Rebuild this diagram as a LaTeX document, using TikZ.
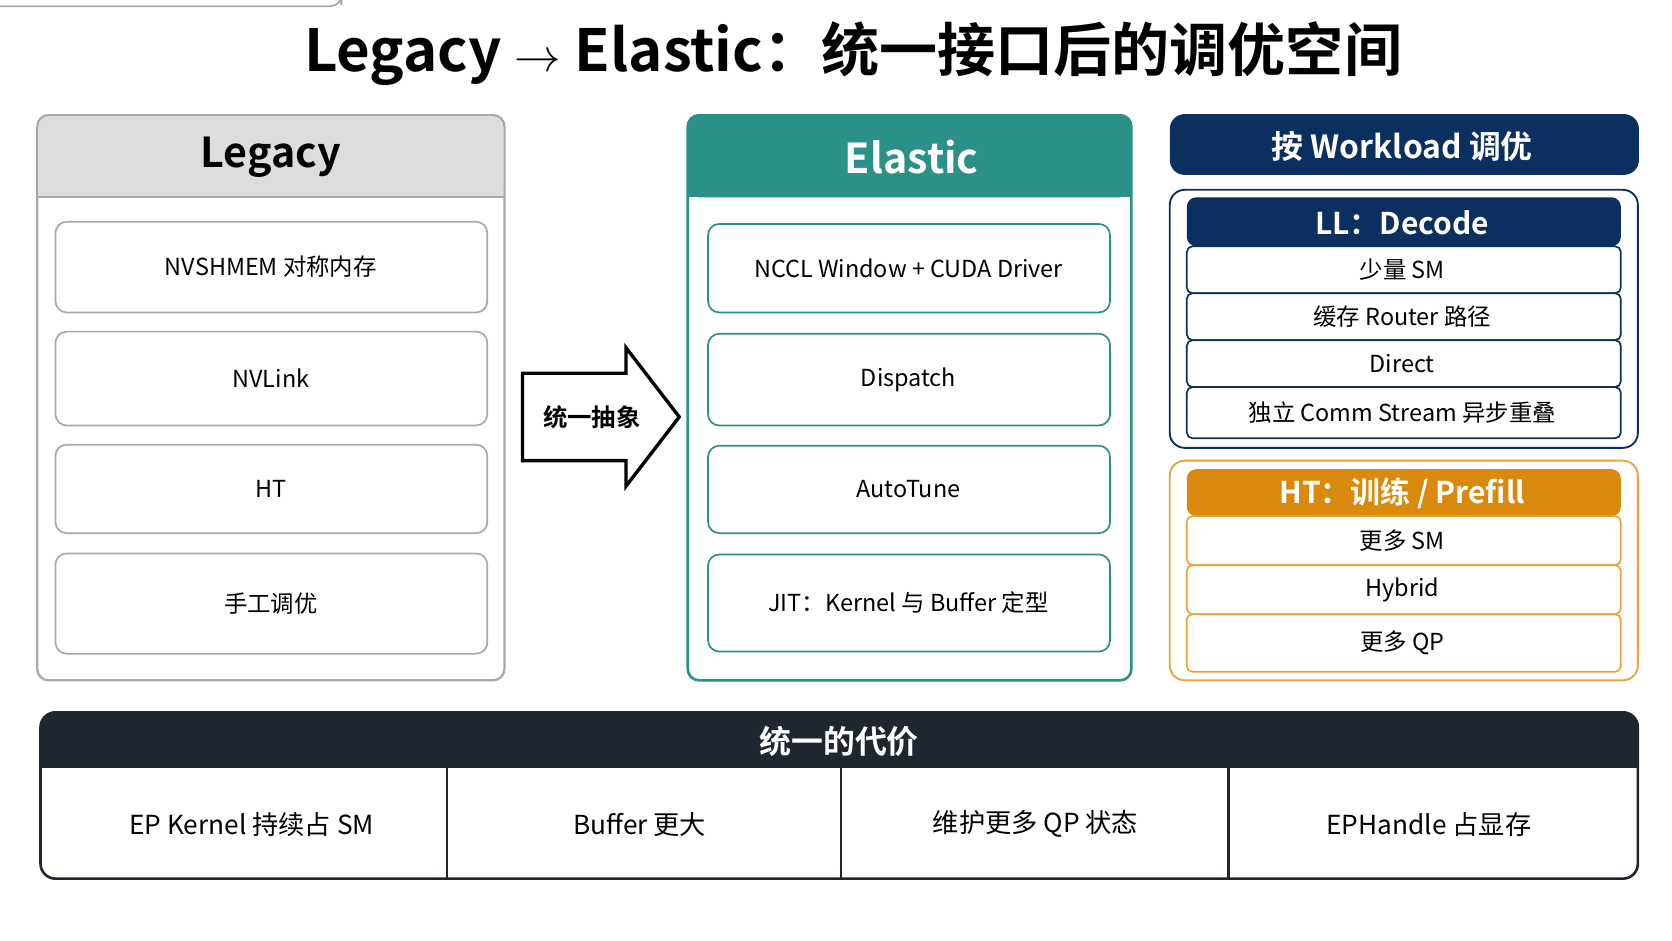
\documentclass[tikz,border=0pt]{standalone}
\usepackage{fontspec}
\setmainfont{Noto Sans CJK SC}[BoldFont={Noto Sans CJK SC Bold}]
\begin{document}
\begin{tikzpicture}[x=0.02cm,y=-0.02cm,
  item/.style={draw=#1,line width=0.9pt,rounded corners=6pt,fill=white},
  t/.style={font=\fontsize{12.5}{14}\selectfont},
  row/.style={draw=#1,line width=0.9pt,rounded corners=3pt,fill=white}]
\definecolor{gborder}{HTML}{A8A8A8}
\definecolor{gfill}{HTML}{DDDDDD}
\definecolor{teal}{HTML}{2A9088}
\definecolor{navy}{HTML}{0B2F5E}
\definecolor{org}{HTML}{E8A33A}
\definecolor{orgd}{HTML}{D98A0C}
\definecolor{dark}{HTML}{1F2630}
\useasboundingbox (0,0) rectangle (1568,882);
\node (title) at (800,50) {\fontsize{31}{34}\selectfont\bfseries Legacy $\rightarrow$ Elastic：统一接口后的调优空间};
% Legacy
\draw[gborder,line width=1.2pt,rounded corners=6pt,fill=white] (35,108) rectangle (473,638);
\fill[gfill,rounded corners=6pt] (36,109) rectangle (472,185);
\fill[gfill] (36,150) rectangle (472,185);
\draw[gborder,line width=1.2pt] (35,185) -- (473,185);
\node (lg) at (254,147) {\fontsize{22}{24}\selectfont\bfseries Legacy};
\node[item=gborder,minimum width=405\pgflinewidth] at (0,0) {};
\foreach \a/\b/\s [count=\i] in {208/293/NVSHMEM 对称内存,311/399/NVLink / RDMA Buffer 显式区分,417/500/HT / LL 分离,519/613/手工调优}{
  \draw[item=gborder] (52,\a) rectangle (457,\b);
  \node[t] (l\i) at (254,{(\a+\b)/2}) {\s};
}
% arrow
\draw[line width=1.8pt,fill=white] (490,350) -- (587,350) -- (587,326) -- (637,391) -- (587,456) -- (587,432) -- (490,432) -- cycle;
\node[t,font=\fontsize{13}{14}\selectfont\bfseries] (ab) at (555,391) {统一抽象};
% Elastic
\draw[teal,line width=1.4pt,rounded corners=6pt,fill=white] (645,108) rectangle (1061,638);
\fill[teal,rounded corners=6pt] (645,108) rectangle (1061,185);
\fill[teal] (645,150) rectangle (1061,185);
\node[text=white] (el) at (855,147) {\fontsize{22}{24}\selectfont\bfseries Elastic};
\foreach \a/\b/\s [count=\i] in {210/293/NCCL Window + CUDA Driver,313/399/Dispatch / Combine 统一接口,418/500/AutoTune,520/611/JIT：Kernel 与 Buffer 定型}{
  \draw[item=teal] (664,\a) rectangle (1041,\b);
  \node[t] (e\i) at (852,{(\a+\b)/2}) {\s};
}
% workload
\fill[navy,rounded corners=8pt] (1097,107) rectangle (1537,164);
\node[text=white] (wk) at (1315,137) {\fontsize{17}{19}\selectfont\bfseries 按 Workload 调优};
\draw[navy,line width=1pt,rounded corners=8pt] (1097,178) rectangle (1536,420);
\fill[navy,rounded corners=5pt] (1113,185) rectangle (1520,231);
\node[text=white] (ll) at (1315,209) {\fontsize{16}{18}\selectfont\bfseries LL：Decode};
\foreach \a/\b/\s [count=\i] in {231/275/少量 SM,275/319/缓存 Router 路径,319/363/Direct,363/411/独立 Comm Stream 异步重叠}{
  \draw[row=navy] (1113,\a) rectangle (1520,\b);
  \node[t] (d\i) at (1315,{(\a+\b)/2}) {\s};
}
\draw[org,line width=1pt,rounded corners=8pt] (1097,432) rectangle (1536,638);
\fill[orgd,rounded corners=5pt] (1113,440) rectangle (1520,484);
\node[text=white] (ht) at (1315,463) {\fontsize{16}{18}\selectfont\bfseries HT：训练 / Prefill};
\foreach \a/\b/\s [count=\i] in {484/530/更多 SM,530/576/Hybrid,576/630/更多 QP / Channel}{
  \draw[row=org] (1113,\a) rectangle (1520,\b);
  \node[t] (h\i) at (1315,{(\a+\b)/2}) {\s};
}
% bottom
\draw[dark,line width=1.4pt,rounded corners=8pt,fill=white] (38,668) rectangle (1536,824);
\fill[dark,rounded corners=8pt] (38,668) rectangle (1536,720);
\fill[dark] (38,700) rectangle (1536,720);
\node[text=white] (cost) at (787,695) {\fontsize{17}{19}\selectfont\bfseries 统一的代价};
\foreach \x in {419,789,1152} \draw[dark,line width=1.2pt] (\x,720) -- (\x,824);
\node[font=\fontsize{14}{16}\selectfont] (c1) at (236,773) {EP Kernel 持续占 SM};
\node[font=\fontsize{14}{16}\selectfont] (c2) at (600,773) {Buffer 更大};
\node[font=\fontsize{14}{16}\selectfont] (c3) at (971,773) {维护更多 QP 状态};
\node[font=\fontsize{14}{16}\selectfont] (c4) at (1340,773) {EPHandle 占显存};
\end{tikzpicture}
\end{document}
